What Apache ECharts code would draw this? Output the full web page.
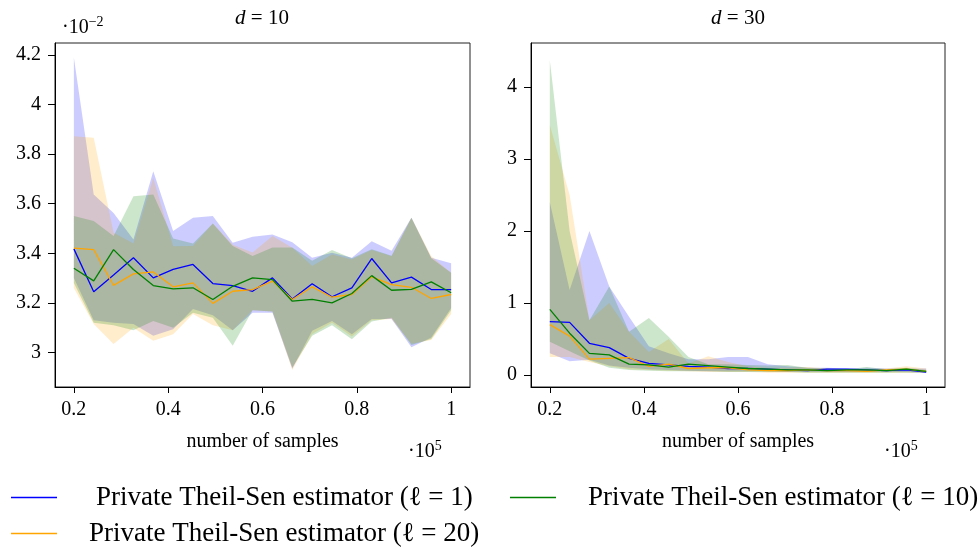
<!DOCTYPE html>
<html>
<head>
<meta charset="utf-8">
<script src="https://cdn.jsdelivr.net/npm/echarts@6/dist/echarts.min.js"></script>
<style>
html, body { margin: 0; padding: 0; background: #fff; }
#chart { width: 979px; height: 550px; }
</style>
</head>
<body>
<div id="chart"></div>
<script>
var FONT = "'Liberation Serif', 'DejaVu Serif', serif";

// number of samples (x 10^5)
var xSamples = [0.2, 0.2421, 0.2842, 0.3263, 0.3684, 0.4105, 0.4526, 0.4947, 0.5368, 0.5789,
	0.6211, 0.6632, 0.7053, 0.7474, 0.7895, 0.8316, 0.8737, 0.9158, 0.9579, 1.0];
var xTicks = [0.2, 0.4, 0.6, 0.8, 1];
var yTicksD10 = [3, 3.2, 3.4, 3.6, 3.8, 4, 4.2];
var yTicksD30 = [0, 1, 2, 3, 4];

var names = ['Private Theil-Sen estimator (ℓ = 1)', 'Private Theil-Sen estimator (ℓ = 10)', 'Private Theil-Sen estimator (ℓ = 20)'];
var colors = ['#0000ff', '#008000', '#ffa500'];
var fills = ['rgba(0,0,255,0.2)', 'rgba(0,128,0,0.2)', 'rgba(255,165,0,0.2)'];

// d = 10 (values x 10^-2)
var d10L1 = [3.418, 3.245, 3.313, 3.382, 3.301, 3.335, 3.355, 3.278, 3.270, 3.247, 3.301, 3.216, 3.277, 3.225, 3.261, 3.379, 3.281, 3.304, 3.254, 3.254];
var d10L1Hi = [4.19, 3.637, 3.563, 3.456, 3.731, 3.49, 3.543, 3.55, 3.443, 3.467, 3.476, 3.445, 3.382, 3.402, 3.382, 3.449, 3.41, 3.543, 3.382, 3.36];
var d10L1Lo = [3.30, 3.13, 3.12, 3.115, 3.068, 3.094, 3.175, 3.15, 3.09, 3.16, 3.16, 2.935, 3.088, 3.127, 3.074, 3.135, 3.135, 3.021, 3.061, 3.18];
var d10L10 = [3.340, 3.289, 3.415, 3.335, 3.270, 3.257, 3.261, 3.214, 3.267, 3.301, 3.294, 3.207, 3.214, 3.200, 3.238, 3.310, 3.251, 3.255, 3.285, 3.241];
var d10L10Hi = [3.55, 3.53, 3.47, 3.63, 3.637, 3.46, 3.44, 3.52, 3.43, 3.389, 3.423, 3.423, 3.37, 3.413, 3.38, 3.416, 3.39, 3.543, 3.38, 3.322];
var d10L10Lo = [3.28, 3.12, 3.11, 3.09, 3.127, 3.10, 3.16, 3.14, 3.027, 3.17, 3.165, 2.94, 3.068, 3.11, 3.054, 3.125, 3.14, 3.03, 3.055, 3.17];
var d10L20 = [3.421, 3.415, 3.271, 3.317, 3.325, 3.265, 3.281, 3.198, 3.247, 3.254, 3.288, 3.214, 3.265, 3.223, 3.234, 3.305, 3.274, 3.263, 3.218, 3.234];
var d10L20Hi = [3.872, 3.866, 3.483, 3.44, 3.704, 3.429, 3.43, 3.52, 3.435, 3.403, 3.47, 3.422, 3.349, 3.395, 3.375, 3.413, 3.388, 3.543, 3.388, 3.322];
var d10L20Lo = [3.26, 3.115, 3.034, 3.10, 3.047, 3.074, 3.155, 3.11, 3.09, 3.17, 3.165, 2.93, 3.075, 3.12, 3.065, 3.13, 3.135, 3.035, 3.05, 3.155];

// d = 30
var d30L1 = [0.74, 0.73, 0.44, 0.38, 0.23, 0.16, 0.14, 0.12, 0.11, 0.09, 0.09, 0.08, 0.07, 0.06, 0.08, 0.08, 0.07, 0.06, 0.07, 0.04];
var d30L1Hi = [2.40, 1.18, 2.00, 1.23, 0.81, 0.40, 0.30, 0.22, 0.22, 0.25, 0.25, 0.15, 0.12, 0.10, 0.10, 0.09, 0.10, 0.09, 0.09, 0.09];
var d30L1Lo = [0.30, 0.19, 0.21, 0.13, 0.10, 0.08, 0.07, 0.06, 0.05, 0.05, 0.05, 0.05, 0.04, 0.04, 0.04, 0.04, 0.04, 0.04, 0.04, 0.03];
var d30L10 = [0.91, 0.58, 0.30, 0.28, 0.15, 0.14, 0.11, 0.15, 0.13, 0.11, 0.09, 0.08, 0.07, 0.07, 0.06, 0.07, 0.07, 0.06, 0.08, 0.05];
var d30L10Hi = [4.37, 2.00, 0.76, 1.23, 0.60, 0.79, 0.53, 0.25, 0.15, 0.15, 0.14, 0.13, 0.14, 0.10, 0.09, 0.08, 0.11, 0.08, 0.10, 0.07];
var d30L10Lo = [0.46, 0.33, 0.20, 0.10, 0.07, 0.06, 0.05, 0.05, 0.05, 0.04, 0.04, 0.04, 0.04, 0.03, 0.03, 0.03, 0.03, 0.03, 0.03, 0.03];
var d30L20 = [0.70, 0.54, 0.22, 0.23, 0.24, 0.12, 0.15, 0.09, 0.10, 0.10, 0.07, 0.06, 0.06, 0.07, 0.06, 0.06, 0.05, 0.07, 0.08, 0.05];
var d30L20Hi = [3.47, 2.50, 0.76, 1.0, 0.60, 0.32, 0.50, 0.16, 0.26, 0.18, 0.12, 0.10, 0.10, 0.11, 0.09, 0.08, 0.08, 0.09, 0.12, 0.09];
var d30L20Lo = [0.25, 0.25, 0.18, 0.12, 0.08, 0.07, 0.06, 0.05, 0.04, 0.04, 0.04, 0.03, 0.03, 0.03, 0.03, 0.03, 0.03, 0.03, 0.03, 0.03];

var dom = document.getElementById('chart');
var myChart = echarts.init(dom, null, { renderer: 'canvas' });

function pairs(ys) {
	return xSamples.map(function(x, i) { return [x, ys[i]]; });
}

// shaded min/max band, drawn as one polygon through the axes
function band(g, lo, hi, fill) {
	return {
		type: 'custom',
		xAxisIndex: g,
		yAxisIndex: g,
		silent: true,
		z: 1,
		data: xSamples.map(function(x, i) { return [x, lo[i], hi[i]]; }),
		encode: { x: 0, y: [1, 2] },
		renderItem: function(params, api) {
			if (params.dataIndex !== 0) return null;
			var n = params.dataInsideLength;
			var top = [], bottom = [];
			for (var j = 0; j < n; j++) {
				top.push(api.coord([api.value(0, j), api.value(2, j)]));
				bottom.unshift(api.coord([api.value(0, j), api.value(1, j)]));
			}
			return {
				type: 'polygon',
				shape: { points: top.concat(bottom) },
				style: { fill: fill, stroke: null }
			};
		}
	};
}

function line(g, k, ys) {
	return {
		name: names[k],
		type: 'line',
		xAxisIndex: g,
		yAxisIndex: g,
		data: pairs(ys),
		symbol: 'none',
		z: 3,
		lineStyle: { color: colors[k], width: 1.3 },
		itemStyle: { color: colors[k] },
		emphasis: { disabled: true }
	};
}

function xAxis(g) {
	return {
		type: 'value',
		gridIndex: g,
		min: 0.16,
		max: 1.04,
		name: 'number of samples',
		nameLocation: 'middle',
		nameGap: 45,
		nameTextStyle: { color: '#000', fontSize: 20, fontFamily: FONT },
		splitLine: { show: false },
		axisLine: { onZero: false, lineStyle: { color: '#000', width: 1 } },
		axisTick: { length: 6, lineStyle: { color: '#000' }, customValues: xTicks },
		axisLabel: { color: '#000', fontSize: 20, fontFamily: FONT, margin: 13, customValues: xTicks }
	};
}

function yAxis(g, min, max, ticks) {
	return {
		type: 'value',
		gridIndex: g,
		min: min,
		max: max,
		splitLine: { show: false },
		axisLine: { show: true, onZero: false, lineStyle: { color: '#000', width: 1 } },
		axisTick: { show: true, length: 7, lineStyle: { color: '#000' }, customValues: ticks },
		axisLabel: { color: '#000', fontSize: 20, fontFamily: FONT, margin: 14, customValues: ticks }
	};
}

function legendItem(k, left, top, gap) {
	return {
		data: [names[k]],
		left: left,
		top: top,
		padding: 0,
		icon: 'rect',
		itemWidth: 46,
		itemHeight: 1.5,
		selectedMode: false,
		textStyle: { color: '#000', fontSize: 27, fontFamily: FONT, padding: [0, 0, 0, gap] }
	};
}

function label(text, x, y, align, size) {
	return {
		type: 'text',
		x: x,
		y: y,
		silent: true,
		style: {
			text: text,
			fill: '#000',
			fontSize: size,
			fontFamily: FONT,
			align: align,
			verticalAlign: 'middle',
			rich: {
				i: { fontStyle: 'italic', fontSize: size, fontFamily: FONT, fill: '#000' },
				s: { fontSize: 14, fontFamily: FONT, fill: '#000', padding: [0, 0, 12, 0] }
			}
		}
	};
}

var option = {
	animation: false,
	backgroundColor: '#fff',
	grid: [
		{ left: 55, top: 43, width: 415, height: 344, show: true, borderColor: '#222', borderWidth: 1, backgroundColor: 'transparent', outerBoundsMode: 'none' },
		{ left: 531, top: 43, width: 414, height: 344, show: true, borderColor: '#222', borderWidth: 1, backgroundColor: 'transparent', outerBoundsMode: 'none' }
	],
	xAxis: [xAxis(0), xAxis(1)],
	yAxis: [
		yAxis(0, 2.861, 4.248, yTicksD10),
		yAxis(1, -0.167, 4.61, yTicksD30)
	],
	legend: [
		legendItem(0, 11, 484, 34),
		legendItem(1, 510, 484, 27),
		legendItem(2, 11, 520, 27)
	],
	graphic: [
		label('{i|d} = 10', 262, 18, 'center', 21),
		label('{i|d} = 30', 738, 18, 'center', 21),
		label('·10{s|−2}', 62, 28, 'left', 20),
		label('·10{s|5}', 408, 452, 'left', 20),
		label('·10{s|5}', 884, 452, 'left', 20)
	],
	series: [
		band(0, d10L1Lo, d10L1Hi, fills[0]),
		band(0, d10L20Lo, d10L20Hi, fills[2]),
		band(0, d10L10Lo, d10L10Hi, fills[1]),
		line(0, 0, d10L1),
		line(0, 2, d10L20),
		line(0, 1, d10L10),
		band(1, d30L1Lo, d30L1Hi, fills[0]),
		band(1, d30L20Lo, d30L20Hi, fills[2]),
		band(1, d30L10Lo, d30L10Hi, fills[1]),
		line(1, 0, d30L1),
		line(1, 2, d30L20),
		line(1, 1, d30L10)
	]
};

myChart.setOption(option, true);
</script>
</body>
</html>
